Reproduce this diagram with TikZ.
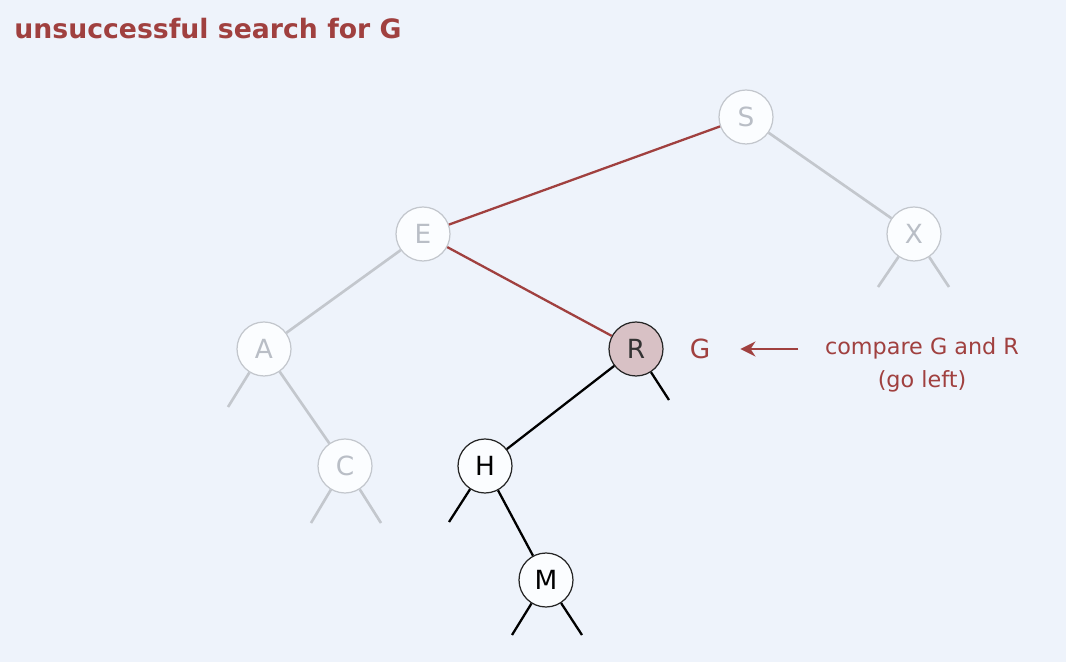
\documentclass[tikz,border=0pt]{standalone}
\usepackage{fontspec}
\setmainfont{DejaVu Sans}
\usetikzlibrary{arrows.meta, positioning}
\definecolor{bstRed}{HTML}{A0403F}
\definecolor{bstBack}{HTML}{EEF3FB}
\definecolor{bstFaint}{HTML}{C3C7CD}
\definecolor{bstFaintText}{HTML}{B9BEC6}
\definecolor{bstNode}{HTML}{FBFDFF}
\definecolor{bstHit}{HTML}{D8C1C5}
\tikzset{
  keyF/.style={circle, draw=bstFaint, fill=bstNode, text=bstFaintText,
               minimum size=1.08cm, inner sep=0pt, line width=0.7pt,
               font=\fontsize{15}{17}\selectfont},
  keyB/.style={keyF, draw=black!85, text=black},
  keyR/.style={keyB, fill=bstHit, text=black!80},
  edgeF/.style={bstFaint, line width=1.5pt},
  edgeB/.style={black, line width=1.3pt},
  edgeR/.style={bstRed, line width=1.3pt},
  arrowR/.style={-{Stealth[length=3mm, width=3mm]}, bstRed, line width=1.5pt},
}
\begin{document}
\begin{tikzpicture}[x=0.02cm, y=-0.02cm]
  \fill[bstBack] (0,0) rectangle (1066,662);
  \useasboundingbox (0,0) rectangle (1066,662);
  \node[anchor=base west, inner sep=0pt, text=bstRed,
        font=\bfseries\fontsize{15.2}{18}\selectfont] (title) at (14,39)
        {unsuccessful search for G};
  % tree
  \node[keyF] (s) at (746,117) {S};
  \node[keyF] (e) at (423,234) {E};
  \node[keyF] (x) at (914,234) {X};
  \node[keyF] (a) at (264,349) {A};
  \node[keyR] (r) at (636,349) {R};
  \node[keyF] (c) at (345,466) {C};
  \node[keyB] (h) at (485,466) {H};
  \node[keyB] (m) at (546,580) {M};
  % null links
  \coordinate (x-l) at (878,287); \coordinate (x-r) at (949,287);
  \coordinate (a-l) at (228,407);
  \coordinate (c-l) at (311,523); \coordinate (c-r) at (381,523);
  \coordinate (r-r) at (669,400);
  \coordinate (h-l) at (449,522);
  \coordinate (m-l) at (512,635); \coordinate (m-r) at (582,635);
  \draw[edgeR] (s) -- (e); \draw[edgeR] (e) -- (r);
  \draw[edgeF] (s) -- (x); \draw[edgeF] (e) -- (a); \draw[edgeF] (a) -- (c);
  \draw[edgeF] (x) -- (x-l); \draw[edgeF] (x) -- (x-r);
  \draw[edgeF] (a) -- (a-l);
  \draw[edgeF] (c) -- (c-l); \draw[edgeF] (c) -- (c-r);
  \draw[edgeB] (r) -- (h); \draw[edgeB] (r) -- (r-r);
  \draw[edgeB] (h) -- (h-l); \draw[edgeB] (h) -- (m);
  \draw[edgeB] (m) -- (m-l); \draw[edgeB] (m) -- (m-r);
  % search key and note
  \node[inner sep=0pt, text=bstRed, font=\fontsize{15}{17}\selectfont] (g) at (700,349) {G};
  \node[inner sep=0pt, text=bstRed, align=center, font=\fontsize{12.7}{19}\selectfont]
        (cmp) at (922,365) {compare G and R\\(go left)};
  \draw[arrowR, shorten <=15pt, shorten >=17pt] (g.east -| cmp.west) -- (g.east);
\end{tikzpicture}
\end{document}
